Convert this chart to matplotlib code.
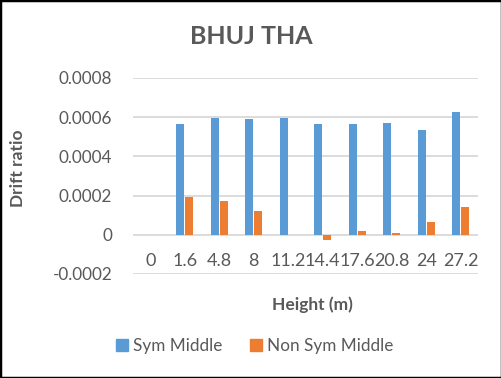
import numpy as np
import matplotlib.pyplot as plt
from matplotlib.patches import Rectangle, Patch

# ── data ─────────────────────────────────────────────────────────────────
heights = ["0", "1.6", "4.8", "8", "11.2", "14.4", "17.6", "20.8", "24", "27.2"]
sym_middle = [0.0, 0.000566, 0.000598, 0.000591, 0.000598, 0.000566,
              0.000566, 0.000571, 0.000535, 0.000627]
non_sym_middle = [0.0, 0.000193, 0.000171, 0.000120, 0.0, -0.000029,
                  0.000017, 0.000007, 0.000063, 0.000140]
yticks = [-0.0002, 0, 0.0002, 0.0004, 0.0006, 0.0008]
ytick_lbl = ["-0.0002", "0", "0.0002", "0.0004", "0.0006", "0.0008"]

BLUE = "#5B9BD5"
ORANGE = "#ED7D31"
GRID = "#D9D9D9"
TXT = "#595959"

plt.rcParams["font.family"] = ["Lato", "DejaVu Sans"]

W, H = 502, 378
fig = plt.figure(figsize=(W / 100, H / 100), dpi=100)
ax = fig.add_axes([133 / W, (H - 274) / H, (478 - 133) / W, (274 - 78) / H])

x = np.arange(len(heights))
bw = 0.23
ax.bar(x - 0.125, sym_middle, width=bw, color=BLUE, zorder=3)
ax.bar(x + 0.125, non_sym_middle, width=bw, color=ORANGE, zorder=3)

ax.set_xlim(-0.5, len(heights) - 0.5)
ax.set_ylim(-0.0002, 0.0008)
ax.set_yticks(yticks)
ax.set_yticklabels(ytick_lbl)
ax.yaxis.grid(True, color=GRID, linewidth=1.3, zorder=0)
ax.set_axisbelow(True)

for s in ["top", "right", "left"]:
    ax.spines[s].set_visible(False)
ax.spines["bottom"].set_position(("data", 0))
ax.spines["bottom"].set_visible(False)
ax.set_xticks(x)
ax.set_xticklabels(heights)
ax.tick_params(axis="x", length=0, pad=13, labelsize=13, labelcolor=TXT)
ax.tick_params(axis="y", length=0, pad=15, labelsize=12.3, labelcolor=TXT)

fig.text(251 / W, 1 - 37 / H, "BHUJ THA", ha="center", va="center",
         fontsize=18, fontweight="bold", color=TXT)
fig.text(18 / W, 1 - 168 / H, "Drift ratio", ha="center", va="center",
         rotation=90, fontsize=12.5, fontweight="bold", color=TXT)
fig.text(312 / W, 1 - 305 / H, "Height (m)", ha="center", va="center",
         fontsize=12.5, fontweight="bold", color=TXT)

handles = [Patch(color=BLUE, label="Sym Middle"),
           Patch(color=ORANGE, label="Non Sym Middle")]
fig.legend(handles=handles, loc="center", bbox_to_anchor=(255 / W, 1 - 346 / H),
           ncol=2, frameon=False, fontsize=12.3, handlelength=0.7, handleheight=0.7,
           handletextpad=0.3, columnspacing=1.6, labelcolor=TXT)

fig.patches.append(Rectangle((0, 0), 1, 1, transform=fig.transFigure,
                             fill=False, edgecolor="black", linewidth=2.5))

fig.savefig("out.png", dpi=100)
